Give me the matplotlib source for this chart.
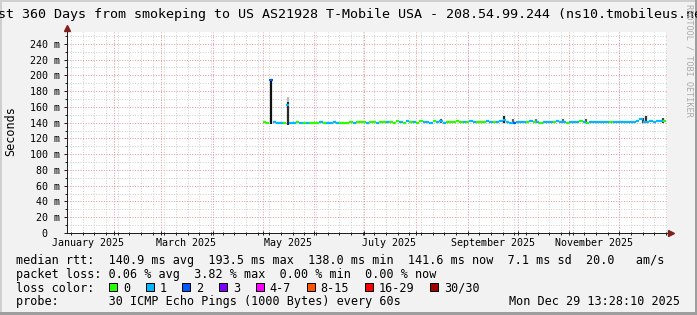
import numpy as np
import pandas as pd
import matplotlib
matplotlib.use('Agg')
import matplotlib.pyplot as plt
import matplotlib.dates as mdates
from matplotlib.patches import Rectangle

plt.rcParams['font.family'] = ['DejaVu Sans Mono']

# Datos
title = 'Last 360 Days from smokeping to US AS21928 T-Mobile USA - 208.54.99.244 (ns10.tmobileus.net)'
t_start = pd.Timestamp('2025-01-03 13:28:10')
t_end = pd.Timestamp('2025-12-29 13:28:10')

median_rtt = [
    141.0, 140.0, 193.5, 140.5, 139.2, 139.0, 140.0, 162.0, 140.0, 139.5,
    140.5, 139.0, 140.0, 139.5, 139.0, 140.0, 139.5, 140.5, 139.0, 140.0,
    139.5, 140.2, 139.0, 140.0, 139.5, 140.0, 140.8, 140.0, 140.5, 141.0,
    140.5, 140.0, 141.0, 140.5, 140.0, 141.0, 140.5, 141.0, 140.5, 140.0,
    141.5, 140.5, 140.0, 141.5, 140.5, 141.0, 140.0, 142.5, 140.5, 141.0,
    140.0, 142.0, 140.5, 141.5, 140.0, 140.5, 141.0, 140.5, 141.5, 140.5,
    141.0, 140.5, 141.5, 141.0, 140.5, 141.0, 140.5, 141.5, 140.5, 141.0,
    140.5, 141.5, 143.5, 141.0, 140.0, 139.5, 140.5, 141.0, 140.5, 141.0,
    141.5, 140.5, 141.0, 140.0, 141.0, 140.5, 141.0, 140.5, 141.5, 141.0,
    140.5, 139.5, 140.5, 141.0, 140.5, 141.5, 140.5, 139.5, 140.5, 141.0,
    140.5, 140.5, 141.0, 140.5, 141.0, 140.5, 141.0, 140.5, 140.5, 140.5,
    141.0, 140.5, 141.5, 144.0, 141.0, 140.5, 142.0, 141.0, 141.5, 142.0, 141.6,
]
loss_class = [
    0, 0, 2, 1, 1, 1, 0, 1, 1, 1,
    0, 1, 0, 1, 0, 0, 0, 1, 0, 1,
    1, 1, 1, 0, 0, 0, 0, 1, 0, 0,
    0, 1, 0, 0, 1, 0, 0, 1, 0, 0,
    0, 1, 0, 1, 0, 1, 0, 0, 1, 1,
    1, 0, 1, 1, 1, 0, 0, 0, 0, 0,
    1, 0, 1, 1, 0, 0, 0, 1, 1, 0,
    1, 1, 1, 1, 1, 2, 1, 1, 1, 0,
    1, 0, 1, 0, 1, 1, 1, 0, 1, 1,
    1, 0, 1, 1, 1, 0, 1, 0, 1, 1,
    1, 1, 1, 1, 0, 1, 1, 1, 1, 1,
    1, 1, 1, 1, 1, 1, 1, 1, 1, 1, 0,
]
sample_dates = pd.date_range('2025-05-01', periods=len(median_rtt), freq='2D')

# humo (distribucion de pings) donde se ve
smoke_dates = ['2025-05-06', '2025-05-16', '2025-05-16', '2025-08-16', '2025-09-23',
               '2025-09-28', '2025-10-12', '2025-10-28', '2025-11-11', '2025-12-15',
               '2025-12-17', '2025-12-27']
smoke_low = [138, 166, 137, 139, 140, 140, 140, 140, 140, 140, 140, 140]
smoke_high = [196, 172, 166, 145, 149, 144, 144, 144, 145, 146, 148, 146]
smoke_shade = ['#111111', '#bbbbbb', '#2a2a2a', '#555555', '#222222', '#666666',
               '#777777', '#666666', '#555555', '#444444', '#333333', '#444444']

loss_labels = ['0', '1', '2', '3', '4-7', '8-15', '16-29', '30/30']
loss_colors = ['#26ff00', '#00b8ff', '#0059ff', '#7e00ff', '#ff00ff', '#ff5500', '#ff0000', '#a10000']

month_names = ['January 2025', 'March 2025', 'May 2025', 'July 2025', 'September 2025', 'November 2025']
month_label_dates = ['2025-01-16', '2025-03-16', '2025-05-16', '2025-07-16', '2025-09-16', '2025-11-16']

rtt_line = 'median rtt:  140.9 ms avg  193.5 ms max  138.0 ms min  141.6 ms now  7.1 ms sd  20.0   am/s'
loss_line = 'packet loss: 0.06 % avg  3.82 % max  0.00 % min  0.00 % now'
probe_line = 'probe:       30 ICMP Echo Pings (1000 Bytes) every 60s'
stamp = 'Mon Dec 29 13:28:10 2025'

# Colores tipo rrdtool
BACK = '#f2f2f2'
SHADEA = '#cfcfcf'
SHADEB = '#9e9e9e'
GRID = '#cfcfcf'
MGRID = '#e69a9a'
ARROW = '#801f1f'
AXIS = '#1f1f1f'

W, H, DPI = 697, 315, 100
fig = plt.figure(figsize=(W / DPI, H / DPI), dpi=DPI, facecolor=BACK)
ax = fig.add_axes([67 / W, 1 - 233 / H, 600 / W, 201 / H])
ax.set_facecolor('white')
ax.set_xlim(mdates.date2num(t_start), mdates.date2num(t_end))
ax.set_ylim(0, 255)

px = 0.72  # 1 pixel en puntos
dot = (0, (1, 1.6))

# Rejilla punteada
weeks = mdates.date2num(pd.date_range('2025-01-06', '2025-12-29', freq='7D'))
months = mdates.date2num(pd.date_range('2025-02-01', '2025-12-01', freq='MS'))
y_minor = np.arange(10, 251, 20)
y_major = np.arange(20, 241, 20)
x0, x1 = ax.get_xlim()
ax.vlines(weeks, 0, 255, colors=GRID, lw=px, linestyles=dot, zorder=0)
ax.hlines(y_minor, x0, x1, colors=GRID, lw=px, linestyles=dot, zorder=0)
ax.vlines(months, 0, 255, colors=MGRID, lw=px, linestyles=dot, zorder=0.5)
ax.hlines(y_major, x0, x1, colors=MGRID, lw=px, linestyles=dot, zorder=0.5)

# Humo
ax.vlines(mdates.date2num(pd.to_datetime(smoke_dates)), smoke_low, smoke_high,
          colors=smoke_shade, lw=1.6, zorder=2)

# Mediana coloreada por perdida
xs = mdates.date2num(sample_dates)
ax.hlines(median_rtt, xs, xs + 2, colors=[loss_colors[c] for c in loss_class],
          lw=1.6, zorder=3)

# Ejes
for s in ['top', 'right']:
    ax.spines[s].set_visible(False)
for s in ['left', 'bottom']:
    ax.spines[s].set_color(AXIS)
    ax.spines[s].set_linewidth(px)
ax.plot([0, 0], [1, 1.02], transform=ax.transAxes, color=AXIS, lw=px, clip_on=False)
ax.plot([1, 1.004], [0, 0], transform=ax.transAxes, color=AXIS, lw=px, clip_on=False)
ax.plot([0], [1.022], marker='^', ms=4, color=ARROW, transform=ax.transAxes, clip_on=False)
ax.plot([1.006], [0], marker='>', ms=4, color=ARROW, transform=ax.transAxes, clip_on=False)

y_ticks = np.arange(0, 241, 20)
ax.set_yticks(y_ticks)
ax.set_yticklabels([f'{v:3d} m' if v else '  0  ' for v in y_ticks], fontsize=7.2, ha='left')
ax.set_yticks(np.arange(10, 251, 20), minor=True)
ax.tick_params(axis='y', which='major', direction='out', length=3 * px, width=px,
               pad=34 * px, color=AXIS)
ax.tick_params(axis='y', which='minor', direction='out', length=2 * px, width=px, color=AXIS)

ax.set_xticks(months)
ax.set_xticklabels([])
ax.set_xticks(weeks, minor=True)
ax.tick_params(axis='x', which='major', direction='inout', length=5 * px, width=px, color=AXIS)
ax.tick_params(axis='x', which='minor', direction='inout', length=3 * px, width=px, color=AXIS)

for name, d in zip(month_names, month_label_dates):
    ax.text(mdates.date2num(pd.Timestamp(d)), -12.5 / 201, name, fontsize=7.2,
            ha='center', va='baseline', transform=ax.get_xaxis_transform())

# Textos
fig.text(350 / W, 1 - 18.3 / H, title, ha='center', va='baseline', fontsize=9.6)
fig.text(10.5 / W, 1 - 131 / H, 'Seconds', rotation=90, ha='center', va='center', fontsize=8.5)
fig.text(689 / W, 1 - 4 / H, 'RRDTOOL / TOBI OETIKER', rotation=270, ha='center', va='top',
         fontsize=6.1, color='#aaaaaa')

fs = 8.5
cw = 7.1
fig.text(16 / W, 1 - 263.6 / H, rtt_line, fontsize=fs, va='baseline')
fig.text(16 / W, 1 - 277.6 / H, loss_line, fontsize=fs, va='baseline')
fig.text(16 / W, 1 - 291.6 / H, 'loss color:', fontsize=fs, va='baseline')
fig.text(16 / W, 1 - 305.3 / H, probe_line, fontsize=fs, va='baseline')
fig.text(680 / W, 1 - 305.3 / H, stamp, fontsize=fs, va='baseline', ha='right')

bx = 109
for lab, col in zip(loss_labels, loss_colors):
    fig.add_artist(Rectangle((bx / W, 1 - 291 / H), 8 / W, 8 / H, transform=fig.transFigure,
                             facecolor=col, edgecolor='black', lw=px))
    fig.text((bx + 14) / W, 1 - 291.6 / H, lab, fontsize=fs, va='baseline')
    bx = bx + 14 + len(lab) * cw + 15.6

# Bordes sombreados
fig.add_artist(Rectangle((0, 1 - 2 / H), 1, 2 / H, transform=fig.transFigure, color=SHADEA, lw=0))
fig.add_artist(Rectangle((0, 0), 2 / W, 1, transform=fig.transFigure, color=SHADEA, lw=0))
fig.add_artist(Rectangle((0, 0), 1, 3 / H, transform=fig.transFigure, color=SHADEB, lw=0))
fig.add_artist(Rectangle((1 - 2 / W, 0), 2 / W, 1, transform=fig.transFigure, color=SHADEB, lw=0))

fig.savefig('out.png', dpi=DPI, facecolor=BACK)
